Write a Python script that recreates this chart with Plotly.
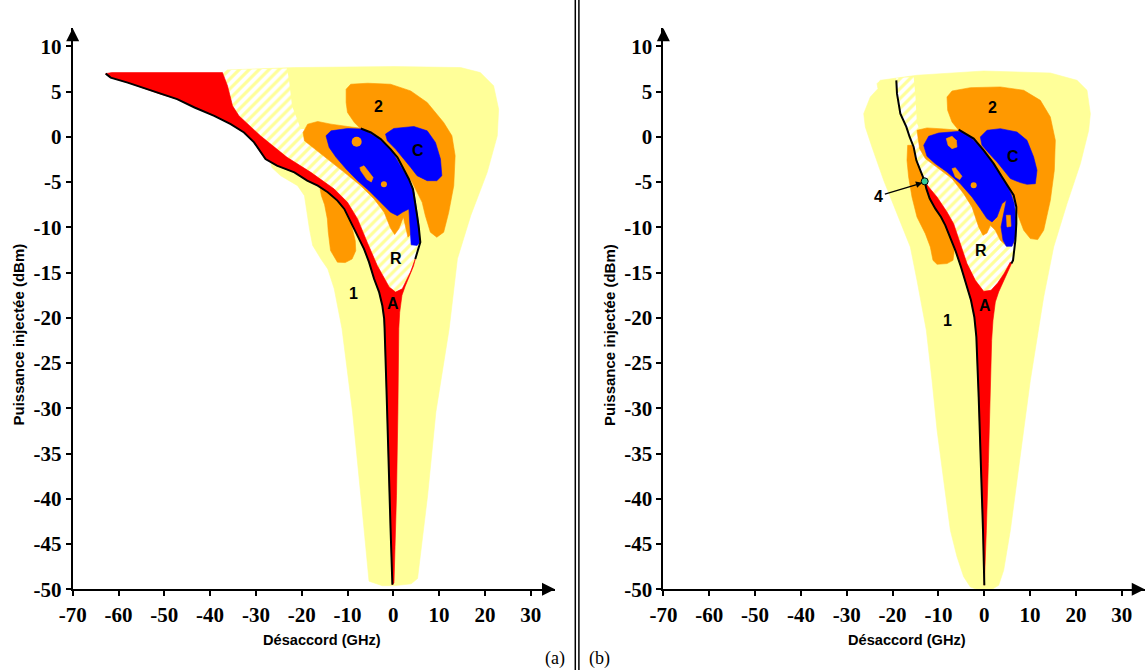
import plotly.graph_objects as go

W, H = 1145, 670

# ---------------- axis ticks ----------------
X_TICKS = [-70, -60, -50, -40, -30, -20, -10, 0, 10, 20, 30]
X_TICK_TEXT = ["-70", "-60", "-50", "-40", "-30", "-20", "-10", "0", "10", "20", "30"]
Y_TICKS = [-50, -45, -40, -35, -30, -25, -20, -15, -10, -5, 0, 5, 10]
Y_TICK_TEXT = ["-50", "-45", "-40", "-35", "-30", "-25", "-20", "-15", "-10", "-5", "0", "5", "10"]

# ---------------- panel (a) regions: (detuning GHz, power dBm) ----------------
A_YELLOW = [(-36.9, 7.1), (-36.2, 7.39), (-21.6, 7.65), (0.15, 7.76), (14.7, 7.65), (19.0, 7.1),
            (21.9, 5.63), (23.0, 3.05), (22.7, 0.11), (20.5, -3.93), (16.9, -8.71), (14.0, -13.48),
            (12.2, -21.2), (9.3, -30.4), (7.5, -39.6), (5.3, -48.8), (3.9, -49.4), (0.15, -49.6),
            (-2.4, -49.6), (-5.3, -49.1), (-7.1, -39.6), (-8.9, -30.4), (-11.2, -21.2), (-12.9, -16.8),
            (-14.3, -14.6), (-15.8, -13.5), (-17.6, -12.0), (-18.3, -10.2), (-19.4, -6.5), (-20.9, -5.4),
            (-24.6, -4.3), (-26.5, -3.4), (-26.8, -2.8), (-30.4, -0.25), (-34.8, 2.7), (-36.2, 5.26)]

A_HATCH = [(-37.3, 7.1), (-36.2, 7.39), (-23.2, 7.54), (-22.8, 6.36), (-22.1, 3.4), (-20.2, 0.85),
           (-14.3, 0.85), (-7.1, -0.25), (0.1, -2.8), (4.5, -6.1), (5.2, -8.7), (5.6, -10.18),
           (5.9, -11.65), (5.35, -12.57), (4.8, -13.5), (3.75, -14.95), (1.95, -16.8), (0.5, -17.16),
           (-0.9, -16.6), (-3.5, -14.22), (-5.7, -11.65), (-7.8, -9.07), (-10.0, -7.24), (-12.9, -5.77),
           (-18.0, -3.93), (-23.2, -2.27), (-29.0, 0.11), (-33.7, 2.32), (-35.1, 3.42), (-36.2, 5.63)]

A_ORANGE_LOBE = [(-16.0, -5.7), (-13.5, -6.3), (-11.0, -7.5), (-9.3, -9.4), (-8.3, -11.5), (-8.2, -12.6),
                 (-9.0, -13.5), (-10.5, -13.9), (-12.2, -13.85), (-13.7, -12.57), (-14.2, -10.5),
                 (-14.4, -9.07), (-15.0, -7.5), (-15.7, -6.5)]

A_ORANGE_2 = [(-10.3, 5.26), (-9.3, 5.81), (-5.6, 5.92), (-0.6, 5.81), (3.8, 5.07), (7.4, 3.79),
              (11.0, 1.58), (12.8, 0.11), (13.5, -2.09), (13.2, -5.40), (12.1, -8.34), (11.0, -10.54),
              (9.5, -11.1), (8.1, -10.54), (7.0, -8.71), (6.3, -7.24), (5.2, -6.13), (4.1, -5.03),
              (2.3, -3.56), (0.1, -2.09), (-2.0, -0.99), (-4.6, -0.07), (-6.7, 0.66), (-8.5, 1.58),
              (-10.0, 2.69), (-10.3, 3.79)]

A_ORANGE_3 = [(-19.7, 0.48), (-18.7, 1.40), (-16.5, 1.69), (-13.6, 1.40), (-10.0, 1.14), (-5.6, 0.85),
              (-1.3, -3.56), (3.0, -6.13), (4.1, -9.07), (3.9, -10.73), (3.2, -11.1), (2.7, -9.81),
              (2.2, -8.89), (1.2, -10.17), (0.3, -10.8), (-0.6, -10.1), (-2.0, -8.34), (-4.2, -6.87),
              (-7.1, -5.40), (-10.7, -3.93), (-14.3, -2.46), (-17.2, -1.36), (-19.4, -0.44)]

A_BLUE_1 = [(-14.7, 0.11), (-13.6, 0.66), (-10.0, 0.92), (-6.7, 0.85), (-3.5, -0.07), (-0.6, -1.36),
            (1.6, -3.19), (3.4, -4.66), (4.5, -6.13), (5.1, -7.97), (5.6, -9.81), (5.8, -11.65),
            (5.2, -12.0), (3.9, -11.94), (3.6, -9.81), (3.4, -7.97), (2.0, -8.34), (0.9, -8.71),
            (-0.6, -8.34), (-2.7, -7.24), (-5.3, -5.95), (-7.8, -4.85), (-10.3, -3.56), (-12.5, -2.27),
            (-14.0, -1.17)]

A_BLUE_C = [(-1.7, 0.30), (0.1, 0.92), (4.5, 1.14), (7.4, 0.66), (9.2, -0.62), (10.3, -2.46),
            (10.6, -4.30), (9.5, -4.85), (7.4, -4.85), (5.2, -4.30), (3.8, -3.38), (2.3, -2.46),
            (0.5, -1.36), (-1.3, -0.44)]

A_ORANGE_BLOB = [(-7.3, -3.4), (-6.4, -3.2), (-4.4, -4.5), (-4.8, -5.0), (-5.8, -4.7), (-7.1, -3.75)]
A_ORANGE_DOTS_X = [-8.0, -2.05]
A_ORANGE_DOTS_Y = [-0.55, -5.25]
A_ORANGE_DOTS_SIZE = [10, 6]

A_RED_EDGE = [(-62.8, 6.98), (-61.5, 7.1), (-37.3, 7.1), (-36.2, 5.63), (-35.1, 3.42), (-33.7, 2.32),
              (-29.0, 0.11), (-23.2, -2.27), (-18.0, -3.93), (-12.9, -5.77), (-10.0, -7.24), (-7.8, -9.07),
              (-5.7, -11.65), (-3.5, -14.22), (-0.9, -16.6), (0.5, -17.16), (1.95, -16.8), (3.75, -14.95),
              (4.8, -13.5), (4.4, -14.3), (2.6, -16.5), (1.9, -17.5), (1.4, -19.4), (1.2, -21.2),
              (1.0, -30.4), (0.7, -39.6), (0.15, -49.3)]

A_BOUNDARY_1 = [(-62.8, 6.98), (-61.7, 6.54), (-58.0, 5.99), (-53.7, 5.26), (-50.8, 4.71), (-47.2, 4.16),
                (-43.4, 3.24), (-39.1, 2.32), (-35.5, 1.40), (-32.6, 0.48), (-30.4, -0.62), (-29.0, -1.72),
                (-27.9, -2.46), (-25.4, -3.19), (-21.6, -3.93), (-18.8, -4.85), (-16.5, -5.40), (-14.3, -6.13),
                (-12.2, -7.05), (-10.7, -7.97), (-9.3, -9.44), (-7.8, -10.91), (-6.4, -12.38), (-5.3, -13.85),
                (-4.2, -15.69), (-3.1, -17.16), (-2.4, -18.63), (-2.0, -20.1), (-1.9, -21.2), (-1.45, -28.55),
                (-0.95, -35.9), (-0.6, -43.25), (-0.2, -49.5)]

A_BOUNDARY_2 = [(-7.1, 0.92), (-4.9, 0.48), (-2.75, -0.25), (-0.6, -1.36), (0.9, -2.27), (2.3, -3.56),
                (3.4, -4.66), (4.3, -5.77), (4.8, -7.24), (5.2, -8.71), (5.6, -10.18), (5.9, -11.65),
                (5.35, -12.57), (4.8, -13.5)]

A_LABELS = ["1", "2", "C", "R", "A"]
A_LABEL_X = [-8.7, -3.2, 5.3, 0.5, 0.0]
A_LABEL_Y = [-17.3, 3.35, -1.54, -13.4, -18.4]

# ---------------- panel (b) regions ----------------
B_YELLOW = [(-23.04, 6.06), (-22.68, 6.24), (-14.68, 6.80), (-0.13, 7.27), (14.41, 7.05), (20.23, 6.24),
            (22.41, 5.14), (23.14, 2.56), (22.78, 0.72), (20.96, -2.97), (18.05, -7.38), (15.14, -12.17),
            (12.96, -17.70), (11.5, -22.5), (10.05, -26.9), (8.6, -32.4), (7.14, -37.95), (5.69, -43.48),
            (4.23, -47.9), (3.14, -49.56), (1.69, -50.0), (-1.59, -50.0), (-3.04, -49.74), (-4.5, -48.6),
            (-5.95, -46.4), (-7.4, -43.48), (-8.86, -37.95), (-10.3, -32.4), (-11.4, -26.9), (-12.64, -21.38),
            (-14.68, -15.86), (-16.13, -12.17), (-19.04, -8.49), (-21.95, -4.81), (-24.5, -1.12),
            (-25.95, 1.09), (-26.3, 2.56), (-24.86, 4.40), (-23.2, 5.32), (-23.4, 5.87)]

B_BOUNDARY_UPPER = [(-19.19, 6.24), (-19.04, 4.77), (-18.31, 2.56), (-17.0, 1.09), (-16.28, -0.02),
                    (-15.41, -1.12), (-14.82, -2.60), (-13.95, -3.70), (-13.0, -4.92)]
B_BOUNDARY_LOWER = [(-13.0, -4.92), (-12.64, -5.73), (-11.91, -6.83), (-10.68, -7.94), (-9.44, -8.86),
                    (-8.5, -9.78), (-7.4, -11.07), (-6.31, -12.54), (-5.08, -14.38), (-3.91, -16.23),
                    (-2.9, -18.07), (-2.17, -19.91), (-1.73, -22.12), (-1.22, -28.75), (-0.72, -36.11),
                    (-0.28, -43.48), (0.01, -49.56)]

B_RED_EDGE = [(-13.0, -4.92), (-12.13, -5.54), (-10.31, -6.65), (-8.13, -8.31), (-6.68, -9.60), (-5.22, -11.80),
              (-3.77, -14.01), (-1.95, -15.86), (-0.13, -17.07), (1.47, -16.96), (2.92, -16.15), (4.38, -15.05),
              (5.69, -13.83), (5.9, -14.05), (4.5, -15.6), (3.14, -17.14), (2.41, -18.25), (1.9, -20.27),
              (1.61, -22.49), (1.32, -28.75), (0.89, -36.11), (0.45, -43.48), (0.16, -49.56)]

B_HATCH = [(-19.19, 6.5), (-15.4, 6.6), (-15.0, 4.4), (-14.7, 1.5), (-14.0, 0.7), (-5.6, 0.7), (1.0, -3.0),
           (5.5, -6.0), (6.99, -7.75), (6.99, -9.60), (6.78, -11.44), (6.56, -12.54), (6.27, -13.65),
           (5.9, -14.01), (5.69, -13.83), (4.38, -15.05), (2.92, -16.15), (1.47, -16.96), (-0.13, -17.07),
           (-1.95, -15.86), (-3.77, -14.01), (-5.22, -11.80), (-6.68, -9.60), (-8.13, -8.31), (-10.31, -6.65),
           (-12.13, -5.54), (-13.0, -4.92), (-13.95, -3.70), (-14.82, -2.60), (-15.41, -1.12), (-16.28, -0.02),
           (-17.0, 1.09), (-18.31, 2.56), (-19.04, 4.77), (-19.19, 6.24)]

B_ORANGE_LOBE = [(-16.71, -0.94), (-15.77, -0.94), (-15.04, -2.23), (-13.59, -4.44), (-12.5, -5.54),
                 (-11.04, -7.38), (-9.22, -9.23), (-7.77, -10.70), (-6.53, -12.54), (-6.82, -13.65),
                 (-8.13, -14.01), (-10.31, -14.09), (-11.19, -13.65), (-11.77, -12.17), (-12.86, -10.70),
                 (-14.68, -8.86), (-15.77, -6.65), (-16.5, -4.44), (-16.86, -2.60)]

B_ORANGE_2 = [(-8.13, 4.40), (-7.04, 5.06), (-3.04, 5.43), (3.5, 5.51), (8.6, 5.14), (12.23, 4.03),
              (14.41, 2.19), (15.5, -0.39), (15.28, -3.70), (14.41, -7.02), (12.96, -10.33), (11.65, -11.36),
              (10.05, -11.25), (8.6, -10.33), (7.5, -8.86), (6.78, -7.38), (5.32, -5.91), (3.5, -4.44),
              (1.32, -2.78), (-0.86, -1.31), (-3.41, -0.02), (-5.59, 0.72), (-7.04, 1.64), (-7.99, 2.93)]

B_ORANGE_3 = [(-14.68, 0.72), (-12.5, 0.98), (-8.86, 0.87), (-5.59, 0.72), (-0.13, -2.97), (4.23, -5.91),
              (6.41, -8.12), (6.78, -10.33), (6.41, -11.8), (4.96, -12.1), (3.5, -11.44), (2.41, -10.33),
              (1.32, -9.78), (0.59, -10.63), (-0.28, -10.88), (-1.22, -9.96), (-2.68, -7.75), (-4.5, -6.28),
              (-7.04, -4.62), (-10.31, -3.33), (-12.86, -2.41), (-14.1, -1.31)]

B_BLUE_1 = [(-13.22, -0.94), (-12.13, 0.06), (-9.95, 0.42), (-5.22, 0.61), (-3.04, -0.02), (-0.86, -1.12),
            (1.32, -2.60), (3.5, -4.07), (4.96, -5.36), (5.83, -6.28), (6.56, -7.38), (6.99, -9.23),
            (6.85, -11.07), (6.05, -12.1), (4.81, -12.1), (4.09, -11.44), (3.65, -9.96), (4.23, -8.31),
            (4.81, -7.02), (3.87, -7.38), (2.78, -8.86), (1.69, -9.41), (0.59, -9.04), (-0.86, -7.94),
            (-2.68, -6.65), (-5.22, -5.18), (-8.13, -3.89), (-10.68, -2.97), (-12.5, -2.16)]

B_BLUE_C = [(-0.86, -0.02), (0.59, 0.72), (3.5, 0.90), (7.14, 0.53), (9.32, -0.39), (10.77, -2.23),
            (11.5, -3.70), (11.14, -5.18), (9.32, -5.25), (7.87, -5.06), (5.69, -4.62), (4.23, -3.70),
            (2.78, -2.78), (0.96, -1.79), (-0.5, -0.94)]

B_ORANGE_BLOB_1 = [(-8.28, -0.2), (-7.04, 0.06), (-6.1, -0.39), (-5.95, -1.12), (-7.04, -1.31), (-7.9, -0.94)]
B_ORANGE_BLOB_2 = [(-7.04, -3.52), (-6.31, -3.41), (-4.86, -4.36), (-5.37, -4.73), (-6.31, -4.44)]
B_ORANGE_BLOB_3 = [(4.81, -8.67), (5.69, -8.67), (5.83, -9.89), (4.96, -9.96)]
B_ORANGE_DOTS_X = [-2.31]
B_ORANGE_DOTS_Y = [-5.36]

B_BOUNDARY_2 = [(-5.59, 0.79), (-4.13, 0.35), (-2.31, -0.20), (-0.13, -1.49), (2.05, -2.97), (3.87, -4.44),
                (5.32, -5.54), (6.41, -6.46), (6.99, -7.75), (6.99, -9.60), (6.78, -11.44), (6.56, -12.54),
                (6.27, -13.65), (5.9, -14.01)]

B_POINT4 = (-13.0, -4.92)
B_LABELS = ["1", "2", "C", "R", "A"]
B_LABEL_X = [-8.13, 1.69, 6.27, -0.64, 0.09]
B_LABEL_Y = [-20.3, 3.22, -2.15, -12.54, -18.62]

# ---------------- colours ----------------
YELLOW = "#FFFF99"
ORANGE = "#FF9900"
BLUE = "#0000FF"
RED = "#FF0000"

fig = go.Figure()


def poly(pts, color, xa, ya, hatch=False):
    xs = [p[0] for p in pts] + [pts[0][0]]
    ys = [p[1] for p in pts] + [pts[0][1]]
    if hatch:
        fig.add_trace(go.Scatter(
            x=xs, y=ys, mode="lines", fill="toself", fillcolor="white",
            fillpattern=dict(shape="/", fgcolor=YELLOW, bgcolor="white", size=7, solidity=0.45,
                             fillmode="replace"),
            line=dict(width=0, color="white"), hoverinfo="skip", showlegend=False,
            xaxis=xa, yaxis=ya))
    else:
        fig.add_trace(go.Scatter(
            x=xs, y=ys, mode="lines", fill="toself", fillcolor=color,
            line=dict(width=0.6, color=color), hoverinfo="skip", showlegend=False,
            xaxis=xa, yaxis=ya))


def line(pts, xa, ya):
    fig.add_trace(go.Scatter(
        x=[p[0] for p in pts], y=[p[1] for p in pts], mode="lines",
        line=dict(width=2, color="black"), hoverinfo="skip", showlegend=False,
        xaxis=xa, yaxis=ya))


# ----- panel (a)
poly(A_YELLOW, YELLOW, "x", "y")
poly(A_HATCH, None, "x", "y", hatch=True)
poly(A_ORANGE_LOBE, ORANGE, "x", "y")
poly(A_ORANGE_2, ORANGE, "x", "y")
poly(A_ORANGE_3, ORANGE, "x", "y")
poly(A_BLUE_1, BLUE, "x", "y")
poly(A_BLUE_C, BLUE, "x", "y")
poly(A_ORANGE_BLOB, ORANGE, "x", "y")
fig.add_trace(go.Scatter(x=A_ORANGE_DOTS_X, y=A_ORANGE_DOTS_Y, mode="markers",
                         marker=dict(color=ORANGE, size=A_ORANGE_DOTS_SIZE, opacity=1,
                                     line=dict(width=0, color=ORANGE)),
                         hoverinfo="skip", showlegend=False, xaxis="x", yaxis="y"))
poly(A_RED_EDGE + A_BOUNDARY_1[::-1], RED, "x", "y")
line(A_BOUNDARY_1, "x", "y")
line(A_BOUNDARY_2, "x", "y")

# ----- panel (b)
poly(B_YELLOW, YELLOW, "x2", "y2")
poly(B_HATCH, None, "x2", "y2", hatch=True)
poly(B_ORANGE_LOBE, ORANGE, "x2", "y2")
poly(B_ORANGE_2, ORANGE, "x2", "y2")
poly(B_ORANGE_3, ORANGE, "x2", "y2")
poly(B_BLUE_1, BLUE, "x2", "y2")
poly(B_BLUE_C, BLUE, "x2", "y2")
poly(B_ORANGE_BLOB_1, ORANGE, "x2", "y2")
poly(B_ORANGE_BLOB_2, ORANGE, "x2", "y2")
poly(B_ORANGE_BLOB_3, ORANGE, "x2", "y2")
fig.add_trace(go.Scatter(x=B_ORANGE_DOTS_X, y=B_ORANGE_DOTS_Y, mode="markers",
                         marker=dict(color=ORANGE, size=6, opacity=1, line=dict(width=0, color=ORANGE)),
                         hoverinfo="skip", showlegend=False, xaxis="x2", yaxis="y2"))
poly(B_RED_EDGE + B_BOUNDARY_LOWER[::-1][:-1], RED, "x2", "y2")
line(B_BOUNDARY_UPPER + B_BOUNDARY_LOWER[1:], "x2", "y2")
line(B_BOUNDARY_2, "x2", "y2")
fig.add_trace(go.Scatter(x=[B_POINT4[0]], y=[B_POINT4[1]], mode="markers",
                         marker=dict(color="#33CC99", size=7, opacity=1, line=dict(width=1, color="black")),
                         hoverinfo="skip", showlegend=False, xaxis="x2", yaxis="y2"))

# ---------------- axes ----------------
TICKFONT = dict(family="Liberation Serif", size=21, color="black", weight="bold")
YDOM = [(H - 589.3) / H, (H - 589.3 + 62 * 9.05) / H]


def xaxis(dom, rng):
    return dict(domain=dom, range=rng, tickvals=X_TICKS, ticktext=X_TICK_TEXT, ticks="outside",
                ticklen=5, tickwidth=1.5, tickcolor="black", showline=True, linecolor="black",
                linewidth=2, showgrid=False, zeroline=False, tickfont=TICKFONT, fixedrange=True)


def yaxis(anchor):
    return dict(domain=YDOM, range=[-50, 12], tickvals=Y_TICKS, ticktext=Y_TICK_TEXT, ticks="outside",
                ticklen=5, tickwidth=1.5, tickcolor="black", showline=True, linecolor="black",
                linewidth=2, showgrid=False, zeroline=False, tickfont=TICKFONT, anchor=anchor,
                fixedrange=True)


LABELFONT = dict(family="Liberation Sans, Arial, sans-serif", size=16, color="black", weight="bold")
TITLEFONT = dict(family="Liberation Sans, Arial, sans-serif", size=14.6, color="black", weight="bold")

annotations = []
for t, x, y in zip(A_LABELS, A_LABEL_X, A_LABEL_Y):
    annotations.append(dict(x=x, y=y, xref="x", yref="y", text=t, showarrow=False, font=LABELFONT,
                            xanchor="center", yanchor="middle"))
for t, x, y in zip(B_LABELS, B_LABEL_X, B_LABEL_Y):
    annotations.append(dict(x=x, y=y, xref="x2", yref="y2", text=t, showarrow=False, font=LABELFONT,
                            xanchor="center", yanchor="middle"))
annotations.append(dict(x=-13.5, y=-5.08, xref="x2", yref="y2", ax=-23.0, ay=-6.55, axref="x2",
                        ayref="y2", text="4", showarrow=True, arrowhead=2, arrowsize=1,
                        arrowwidth=1.3, arrowcolor="black", font=LABELFONT))

# axis arrow heads
for xr, yr, xmax in (("x", "y", 35.3), ("x2", "y2", 35.0)):
    annotations.append(dict(x=xmax, y=-50, xref=xr, yref=yr, ax=-14, ay=0, text="", showarrow=True,
                            arrowhead=2, arrowsize=1.3, arrowwidth=2, arrowcolor="black"))
    annotations.append(dict(x=-70, y=12, xref=xr, yref=yr, ax=0, ay=14, text="", showarrow=True,
                            arrowhead=2, arrowsize=1.3, arrowwidth=2, arrowcolor="black"))

# axis titles
for cx in (321.5, 907.2):
    annotations.append(dict(x=cx / W, y=1 - 640 / H, xref="paper", yref="paper", text="Désaccord (GHz)",
                            showarrow=False, font=TITLEFONT, xanchor="center", yanchor="middle"))
for cx in (17.5, 609.0):
    annotations.append(dict(x=cx / W, y=1 - 335 / H, xref="paper", yref="paper",
                            text="Puissance injectée (dBm)", textangle=-90, showarrow=False,
                            xanchor="center", yanchor="middle",
                            font=dict(family="Liberation Sans, Arial, sans-serif", size=15, color="black",
                                      weight="bold")))
annotations.append(dict(x=555 / W, y=1 - 658 / H, xref="paper", yref="paper", text="(a)", showarrow=False,
                        xanchor="center", yanchor="middle",
                        font=dict(family="Liberation Serif", size=18, color="black")))
annotations.append(dict(x=599 / W, y=1 - 658 / H, xref="paper", yref="paper", text="(b)", showarrow=False,
                        xanchor="center", yanchor="middle",
                        font=dict(family="Liberation Serif", size=18, color="black")))

shapes = [
    dict(type="line", xref="paper", yref="paper", x0=575.3 / W, x1=575.3 / W, y0=0, y1=1,
         line=dict(color="black", width=1.5)),
    dict(type="line", xref="paper", yref="paper", x0=578.9 / W, x1=578.9 / W, y0=0, y1=1,
         line=dict(color="black", width=1.5)),
]

fig.update_layout(
    width=W, height=H,
    margin=dict(l=0, r=0, t=0, b=0, autoexpand=False),
    paper_bgcolor="white", plot_bgcolor="white",
    xaxis=xaxis([72.7 / W, (72.7 + 105.3 * 4.58) / W], [-70, 35.3]),
    yaxis=yaxis("x"),
    xaxis2=xaxis([663.4 / W, (663.4 + 105.0 * 4.584) / W], [-70, 35.0]),
    yaxis2=yaxis("x2"),
    annotations=annotations,
    shapes=shapes,
    showlegend=False,
)
fig.update_layout(xaxis=dict(anchor="y"), xaxis2=dict(anchor="y2"))

fig.write_html("out.html", config={"displayModeBar": False},
               post_script="document.body.style.margin='0';document.body.style.overflow='hidden';")
